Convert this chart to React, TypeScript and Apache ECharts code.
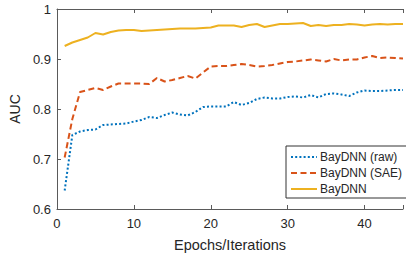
import React, { useEffect, useRef } from 'react';
import * as echarts from 'echarts';

const epochs = [1, 2, 3, 4, 5, 6, 7, 8, 9, 10, 11, 12, 13, 14, 15, 16, 17, 18, 19, 20, 21, 22, 23, 24, 25, 26, 27, 28, 29, 30, 31, 32, 33, 34, 35, 36, 37, 38, 39, 40, 41, 42, 43, 44, 45];

const rawAUC = [0.637, 0.748, 0.755, 0.758, 0.759, 0.768, 0.769, 0.770, 0.771, 0.775, 0.778, 0.784, 0.782, 0.788, 0.793, 0.789, 0.787, 0.794, 0.804, 0.805, 0.805, 0.805, 0.814, 0.808, 0.812, 0.820, 0.823, 0.821, 0.821, 0.824, 0.825, 0.823, 0.828, 0.823, 0.830, 0.831, 0.829, 0.826, 0.833, 0.837, 0.836, 0.836, 0.837, 0.838, 0.838];

const saeAUC = [0.703, 0.780, 0.834, 0.838, 0.842, 0.838, 0.845, 0.851, 0.851, 0.851, 0.851, 0.850, 0.862, 0.855, 0.858, 0.862, 0.866, 0.861, 0.873, 0.885, 0.886, 0.886, 0.888, 0.890, 0.888, 0.885, 0.886, 0.888, 0.891, 0.894, 0.895, 0.897, 0.899, 0.897, 0.895, 0.900, 0.897, 0.899, 0.899, 0.903, 0.906, 0.902, 0.903, 0.902, 0.901];

const bayAUC = [0.926, 0.933, 0.938, 0.943, 0.952, 0.949, 0.954, 0.957, 0.958, 0.958, 0.956, 0.957, 0.958, 0.959, 0.960, 0.961, 0.961, 0.961, 0.962, 0.963, 0.967, 0.967, 0.967, 0.964, 0.968, 0.970, 0.964, 0.967, 0.970, 0.970, 0.971, 0.972, 0.966, 0.968, 0.966, 0.968, 0.968, 0.970, 0.969, 0.967, 0.969, 0.970, 0.969, 0.970, 0.970];

const seriesNames = ['BayDNN (raw)', 'BayDNN (SAE)', 'BayDNN'];
const xTickLabels = [0, 10, 20, 30, 40];
const yTickLabels = [0.6, 0.7, 0.8, 0.9, 1];

const FONT = '"Liberation Sans", Arial, Helvetica, sans-serif';
const AXIS_COLOR = '#5a5a5a';
const TEXT_COLOR = '#262626';

export default function App() {
  const ref = useRef<HTMLDivElement>(null);

  useEffect(() => {
    const chart = echarts.init(ref.current!, null, { renderer: 'svg' });
    const pairs = (vals: number[]) => epochs.map((e, i) => [e, vals[i]]);
    const xFmt = (v: number) => (xTickLabels.indexOf(v) >= 0 ? String(v) : '');
    const yFmt = (v: number) => {
      const r = Math.round(v * 10) / 10;
      return yTickLabels.indexOf(r) >= 0 ? String(r) : '';
    };

    chart.setOption({
      animation: false,
      backgroundColor: '#ffffff',
      textStyle: { fontFamily: FONT },
      grid: { left: 50.7, top: 9, right: -3, bottom: 44.3, show: false },
      legend: {
        orient: 'vertical',
        left: 286,
        top: 146,
        padding: [4, 5, 2, 4],
        itemWidth: 26,
        itemHeight: 14,
        itemGap: 2,
        borderColor: '#333333',
        borderWidth: 1,
        backgroundColor: '#ffffff',
        itemStyle: { opacity: 0, borderWidth: 0 },
        textStyle: { fontFamily: FONT, fontSize: 12, color: TEXT_COLOR, lineHeight: 14, padding: [0, 0, 0, -2] },
        data: seriesNames,
      },
      xAxis: [
        {
          type: 'value',
          min: 0,
          max: 45,
          interval: 10,
          position: 'bottom',
          name: 'Epochs/Iterations',
          nameLocation: 'middle',
          nameGap: 28,
          nameTextStyle: { fontFamily: FONT, fontSize: 14.5, color: TEXT_COLOR },
          axisLine: { show: true, lineStyle: { color: AXIS_COLOR, width: 1 } },
          axisTick: { show: true, inside: true, length: 4, lineStyle: { color: AXIS_COLOR } },
          axisLabel: { formatter: xFmt, fontFamily: FONT, fontSize: 13, color: TEXT_COLOR, margin: 8 },
          splitLine: { show: false },
        },
        {
          type: 'value',
          min: 0,
          max: 45,
          interval: 10,
          position: 'top',
          axisLine: { show: true, lineStyle: { color: AXIS_COLOR, width: 1 } },
          axisTick: { show: true, inside: true, length: 4, lineStyle: { color: AXIS_COLOR } },
          axisLabel: { show: false },
          splitLine: { show: false },
        },
      ],
      yAxis: {
        type: 'value',
        min: 0.6,
        max: 1,
        interval: 0.1,
        name: 'AUC',
        nameLocation: 'middle',
        nameGap: 30,
        nameTextStyle: { fontFamily: FONT, fontSize: 14, color: TEXT_COLOR },
        axisLine: { show: true, lineStyle: { color: AXIS_COLOR, width: 1 } },
        axisTick: { show: true, inside: true, length: 4, lineStyle: { color: AXIS_COLOR } },
        axisLabel: { formatter: yFmt, fontFamily: FONT, fontSize: 13, color: TEXT_COLOR, margin: 6 },
        splitLine: { show: false },
      },
      series: [
        {
          name: seriesNames[0],
          type: 'line',
          data: pairs(rawAUC),
          showSymbol: false,
          symbol: 'none',
          color: '#0072BD',
          lineStyle: { color: '#0072BD', width: 2, type: [2, 2.2] },
          z: 2,
        },
        {
          name: seriesNames[1],
          type: 'line',
          data: pairs(saeAUC),
          showSymbol: false,
          symbol: 'none',
          color: '#D95319',
          lineStyle: { color: '#D95319', width: 2, type: [6, 3.5] },
          z: 3,
        },
        {
          name: seriesNames[2],
          type: 'line',
          data: pairs(bayAUC),
          showSymbol: false,
          symbol: 'none',
          color: '#EDB120',
          lineStyle: { color: '#EDB120', width: 2, type: 'solid' },
          z: 4,
        },
      ],
    });

    return () => chart.dispose();
  }, []);

  return (
    <div
      ref={ref}
      style={{ position: 'fixed', left: 0, top: 0, width: 406, height: 257 }}
    />
  );
}
